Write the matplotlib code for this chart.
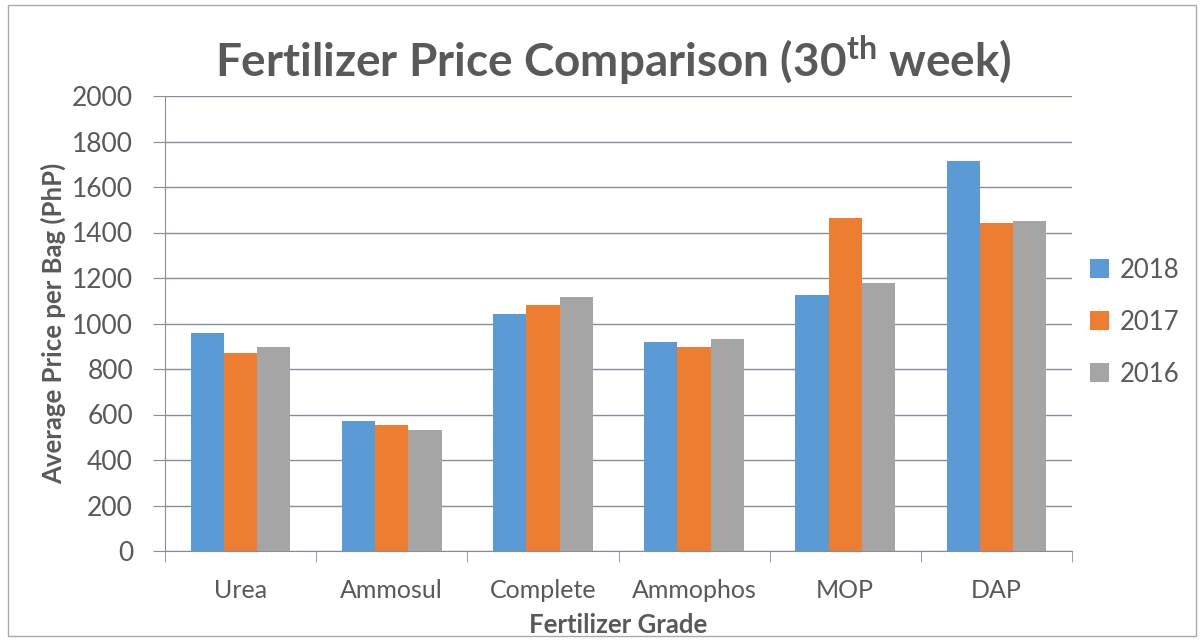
import matplotlib
matplotlib.use("Agg")
import matplotlib.pyplot as plt
import numpy as np
from matplotlib.patches import Rectangle

categories = ["Urea", "Ammosul", "Complete", "Ammophos", "MOP", "DAP"]
series_names = ["2018", "2017", "2016"]
values_2018 = [960, 570, 1040, 918, 1126, 1715]
values_2017 = [871, 555, 1080, 896, 1464, 1441]
values_2016 = [896, 530, 1115, 931, 1177, 1451]
yticks = [0, 200, 400, 600, 800, 1000, 1200, 1400, 1600, 1800, 2000]

colors = ["#5B9BD5", "#ED7D31", "#A5A5A5"]
text_color = "#595959"

plt.rcParams['font.family'] = ['Lato', 'DejaVu Sans']

fig = plt.figure(figsize=(12.02, 6.40), dpi=100)
ax = fig.add_axes([165/1202, 1 - 551/640, (1072-165)/1202, (551-96)/640])

x = np.arange(len(categories))
w = 0.22
for i, (vals, name) in enumerate(zip([values_2018, values_2017, values_2016], series_names)):
    ax.bar(x + (i - 1) * w, vals, width=w, color=colors[i], label=name, zorder=3)

ax.set_xlim(-0.5, len(categories) - 0.5)
ax.set_ylim(0, 2000)
ax.set_yticks(yticks)
ax.set_yticklabels([str(t) for t in yticks], fontsize=19, color=text_color)
ax.set_xticks(x)
ax.set_xticklabels(categories, fontsize=18, color=text_color)
ax.set_xticks(np.arange(-0.5, len(categories), 1), minor=True)
ax.tick_params(axis='x', which='major', length=0, pad=20)
ax.tick_params(axis='x', which='minor', length=8, color="#8a8a9a", direction='out')
ax.tick_params(axis='y', length=9, color="#8a8a9a", pad=14)

ax.grid(axis='y', color="#8a8a9a", linewidth=1.0, zorder=0)
for s in ["top", "right"]:
    ax.spines[s].set_visible(False)
ax.spines["left"].set_color("#8a8a9a")
ax.spines["bottom"].set_color("#8a8a9a")

ax.set_ylabel("Average Price per Bag (PhP)", fontsize=18.5, fontweight='bold', color=text_color, labelpad=4)
ax.set_xlabel("Fertilizer Grade", fontsize=18.5, fontweight='bold', color=text_color, labelpad=8)

fig.text(0.51, 1 - 60/640, "Fertilizer Price Comparison (30$^{\\mathregular{th}}$ week)",
         fontsize=33, fontweight='bold', color=text_color, ha='center', va='center')

leg = ax.legend(loc='center left', bbox_to_anchor=(1.0, 0.503), frameon=False,
                fontsize=18.5, handlelength=0.75, handleheight=0.75, labelspacing=1.05,
                handletextpad=0.4, borderaxespad=0.3)
for t in leg.get_texts():
    t.set_color(text_color)

fig.patches.append(Rectangle((8/1202, 4/640), 1188/1202, 631/640, transform=fig.transFigure,
                             fill=False, edgecolor="#aaaaaa", linewidth=1.0))

fig.savefig("out.png", dpi=100)
